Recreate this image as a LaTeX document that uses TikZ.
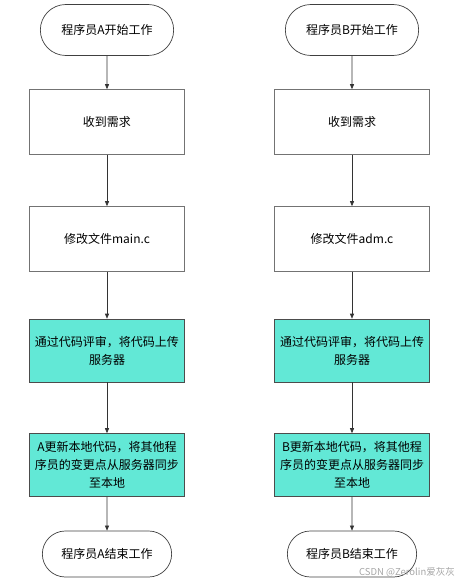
\documentclass[tikz,border=0pt]{standalone}
\usepackage{fontspec}
\setmainfont{Noto Sans CJK SC}
\usetikzlibrary{shapes.misc,arrows.meta}
\definecolor{cianclaro}{RGB}{98,232,214}
\tikzset{
  terminal/.style={rounded rectangle, draw=black!75, line width=0.7pt,
    minimum width=140pt, minimum height=51pt, font=\fontsize{12}{15}\selectfont},
  caja/.style={draw=black!55, line width=0.6pt, minimum width=155pt,
    minimum height=65pt, text width=147pt, align=center,
    font=\fontsize{12}{18}\selectfont},
  cajacian/.style={caja, fill=cianclaro, draw=black!70, minimum height=63pt},
  flecha/.style={-{Triangle[length=5pt,width=4pt]}, draw=black!80, line width=0.6pt}
}
\begin{document}
\begin{tikzpicture}[x=1pt, y=-1pt]
    \useasboundingbox (0,0) rectangle (456,584);
    % Columnas de los dos programadores
    \foreach \p/\x/\f in {A/107/main.c, B/352/adm.c} {
        \node[terminal] (inicio\p) at (\x,30) {程序员\p{}开始工作};
        \node[caja] (req\p) at (\x,122) {收到需求};
        \node[caja] (mod\p) at (\x,239) {修改文件\f};
        \node[cajacian] (rev\p) at (\x,350.5) {通过代码评审，将代码上传\\服务器};
        \node[cajacian] (act\p) at (\x,465) {\p{}更新本地代码，将其他程\\序员的变更点从服务器同步\\至本地};
        \node[terminal, minimum width=136pt, minimum height=46pt] (fin\p) at (\x,554) {程序员\p{}结束工作};
        % Flechas
        \draw[flecha] (inicio\p) -- (req\p);
        \draw[flecha] (req\p) -- (mod\p);
        \draw[flecha] (mod\p) -- (rev\p);
        \draw[flecha] (rev\p) -- (act\p);
        \draw[flecha] (act\p) -- (fin\p);
    }
    % Marca de agua
    \node[text=black!35, font=\fontsize{9.5}{11}\selectfont, anchor=east, inner sep=1pt] (marca) at (456,572) {CSDN @Zerolin爱灰灰};
\end{tikzpicture}
\end{document}
